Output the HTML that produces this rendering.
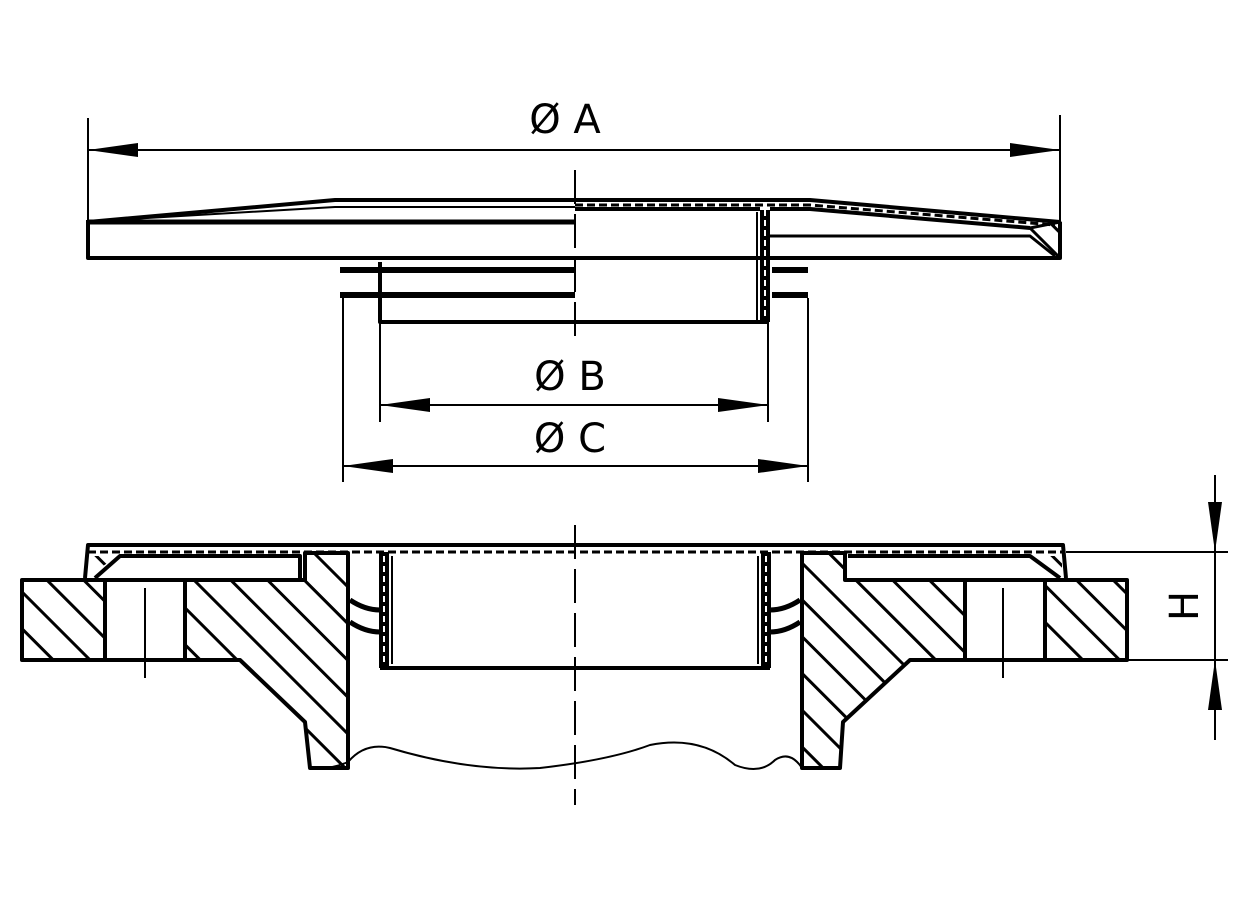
<!DOCTYPE html>
<html><head><style>html,body{margin:0;padding:0;background:#fff}</style></head>
<body>
<svg width="1247" height="900" viewBox="0 0 1247 900" xmlns="http://www.w3.org/2000/svg">
<defs>
<pattern id="h" width="26" height="26" patternUnits="userSpaceOnUse" patternTransform="rotate(-45)">
<line x1="13" y1="0" x2="13" y2="26" stroke="#000" stroke-width="3"/>
</pattern>
<marker id="ar" viewBox="0 0 50 14" refX="50" refY="7" markerWidth="50" markerHeight="14" markerUnits="userSpaceOnUse" orient="auto-start-reverse">
<path d="M0,0 L50,7 L0,14 Z" fill="#000"/>
</marker>
</defs>
<g fill="none" stroke="#000" stroke-linejoin="round">
<line x1="88" y1="118" x2="88" y2="225" stroke-width="2"/>
<line x1="1060" y1="115" x2="1060" y2="225" stroke-width="2"/>
<line x1="88" y1="150" x2="1060" y2="150" stroke-width="2" marker-start="url(#ar)" marker-end="url(#ar)"/>
<line x1="380" y1="322" x2="380" y2="422" stroke-width="2"/>
<line x1="768" y1="322" x2="768" y2="422" stroke-width="2"/>
<line x1="380" y1="405" x2="768" y2="405" stroke-width="2" marker-start="url(#ar)" marker-end="url(#ar)"/>
<line x1="343" y1="298" x2="343" y2="482" stroke-width="2"/>
<line x1="808" y1="298" x2="808" y2="482" stroke-width="2"/>
<line x1="343" y1="466" x2="808" y2="466" stroke-width="2" marker-start="url(#ar)" marker-end="url(#ar)"/>
<line x1="575" y1="170" x2="575" y2="345" stroke-width="2" stroke-dasharray="34,10"/>
<path d="M88,222 L335,200 L575,200" stroke-width="4"/>
<path d="M130,219 L335,207 L575,207" stroke-width="2"/>
<line x1="88" y1="222" x2="575" y2="222" stroke-width="5"/>
<path d="M88,220 L88,258 L1060,258 L1060,222" stroke-width="4"/>
<path d="M575,200 L810,200 L1060,222" stroke-width="4"/>
<path d="M575,209 L760,209 M770,209 L810,209 L1030,228" stroke-width="4"/>
<path d="M575,205 L810,205 L1055,225" stroke="#000" stroke-width="3" stroke-dasharray="8,4"/>
<line x1="765" y1="210" x2="765" y2="322" stroke-width="10"/>
<line x1="765" y1="210" x2="765" y2="322" stroke="#fff" stroke-width="2" stroke-dasharray="6,4"/>
<path d="M1030,228 L1060,222 L1060,258 Z" fill="url(#h)" stroke-width="3"/>
<path d="M770,236 L1030,236 L1055,256" stroke-width="3"/>
<path d="M380,262 L380,322 L768,322" stroke-width="4"/>
<line x1="757" y1="212" x2="757" y2="322" stroke-width="2"/>
<path d="M340,270 L575,270 M340,295 L575,295 M772,270 L808,270 M772,295 L808,295" stroke-width="6"/>
<line x1="575" y1="525" x2="575" y2="805" stroke-width="2" stroke-dasharray="34,10"/>
<path d="M22,580 L105,580 L105,660 L22,660 Z" fill="url(#h)" stroke-width="4"/>
<path d="M185,580 L305,580 L305,553 L348,553 L348,768 L310,768 L305,722 L240,660 L185,660 Z" fill="url(#h)" stroke-width="4"/>
<path d="M105,580 L185,580 M105,660 L185,660" stroke-width="4"/>
<line x1="145" y1="588" x2="145" y2="678" stroke-width="2"/>
<path d="M1045,580 L1127,580 L1127,660 L1045,660 Z" fill="url(#h)" stroke-width="4"/>
<path d="M965,580 L845,580 L845,553 L802,553 L802,768 L840,768 L843,722 L910,660 L965,660 Z" fill="url(#h)" stroke-width="4"/>
<path d="M965,580 L1045,580 M965,660 L1045,660" stroke-width="4"/>
<line x1="1003" y1="588" x2="1003" y2="678" stroke-width="2"/>
<path d="M85,578 L88,545 L1063,545 L1066,578" stroke-width="4"/>
<path d="M88,552 L1062,552" stroke-width="3" stroke-dasharray="8,4"/>
<path d="M95,578 L120,556 L300,556 L300,578" stroke-width="4"/>
<path d="M848,556 L1030,556 L1060,578" stroke-width="4"/>
<path d="M88,576 L118,556 L88,556 Z" fill="url(#h)" stroke="none"/>
<path d="M1032,556 L1062,556 L1062,576 Z" fill="url(#h)" stroke="none"/>
<line x1="384" y1="552" x2="384" y2="668" stroke-width="10"/>
<line x1="384" y1="556" x2="384" y2="664" stroke="#fff" stroke-width="2" stroke-dasharray="6,4"/>
<line x1="766" y1="552" x2="766" y2="668" stroke-width="10"/>
<line x1="766" y1="556" x2="766" y2="664" stroke="#fff" stroke-width="2" stroke-dasharray="6,4"/>
<path d="M380,668 L770,668" stroke-width="4"/>
<line x1="392" y1="556" x2="392" y2="664" stroke-width="2"/>
<line x1="758" y1="556" x2="758" y2="664" stroke-width="2"/>
<path d="M350,600 Q365,610 380,610 M350,622 Q365,632 380,632 M800,600 Q785,610 770,610 M800,622 Q785,632 770,632" stroke-width="5"/>
<path d="M310,768 Q330,770 348,762 Q365,742 390,748 Q470,772 540,768 Q610,760 650,745 Q700,735 735,765 Q760,775 775,760 Q790,750 802,768" stroke-width="2"/>
<line x1="1066" y1="552" x2="1228" y2="552" stroke-width="2"/>
<line x1="1127" y1="660" x2="1228" y2="660" stroke-width="2"/>
<line x1="1215" y1="475" x2="1215" y2="552" stroke-width="2" marker-end="url(#ar)"/>
<line x1="1215" y1="740" x2="1215" y2="660" stroke-width="2" marker-end="url(#ar)"/>
<line x1="1215" y1="552" x2="1215" y2="660" stroke-width="2"/>
</g>
<g font-family="DejaVu Sans, Liberation Sans, sans-serif" font-size="40" fill="#000">
<text x="565" y="133" text-anchor="middle">Ø A</text>
<text x="570" y="390" text-anchor="middle">Ø B</text>
<text x="570" y="452" text-anchor="middle">Ø C</text>
<text x="0" y="0" text-anchor="middle" transform="translate(1198,606) rotate(-90)">H</text>
</g>
</svg>
</body></html>
